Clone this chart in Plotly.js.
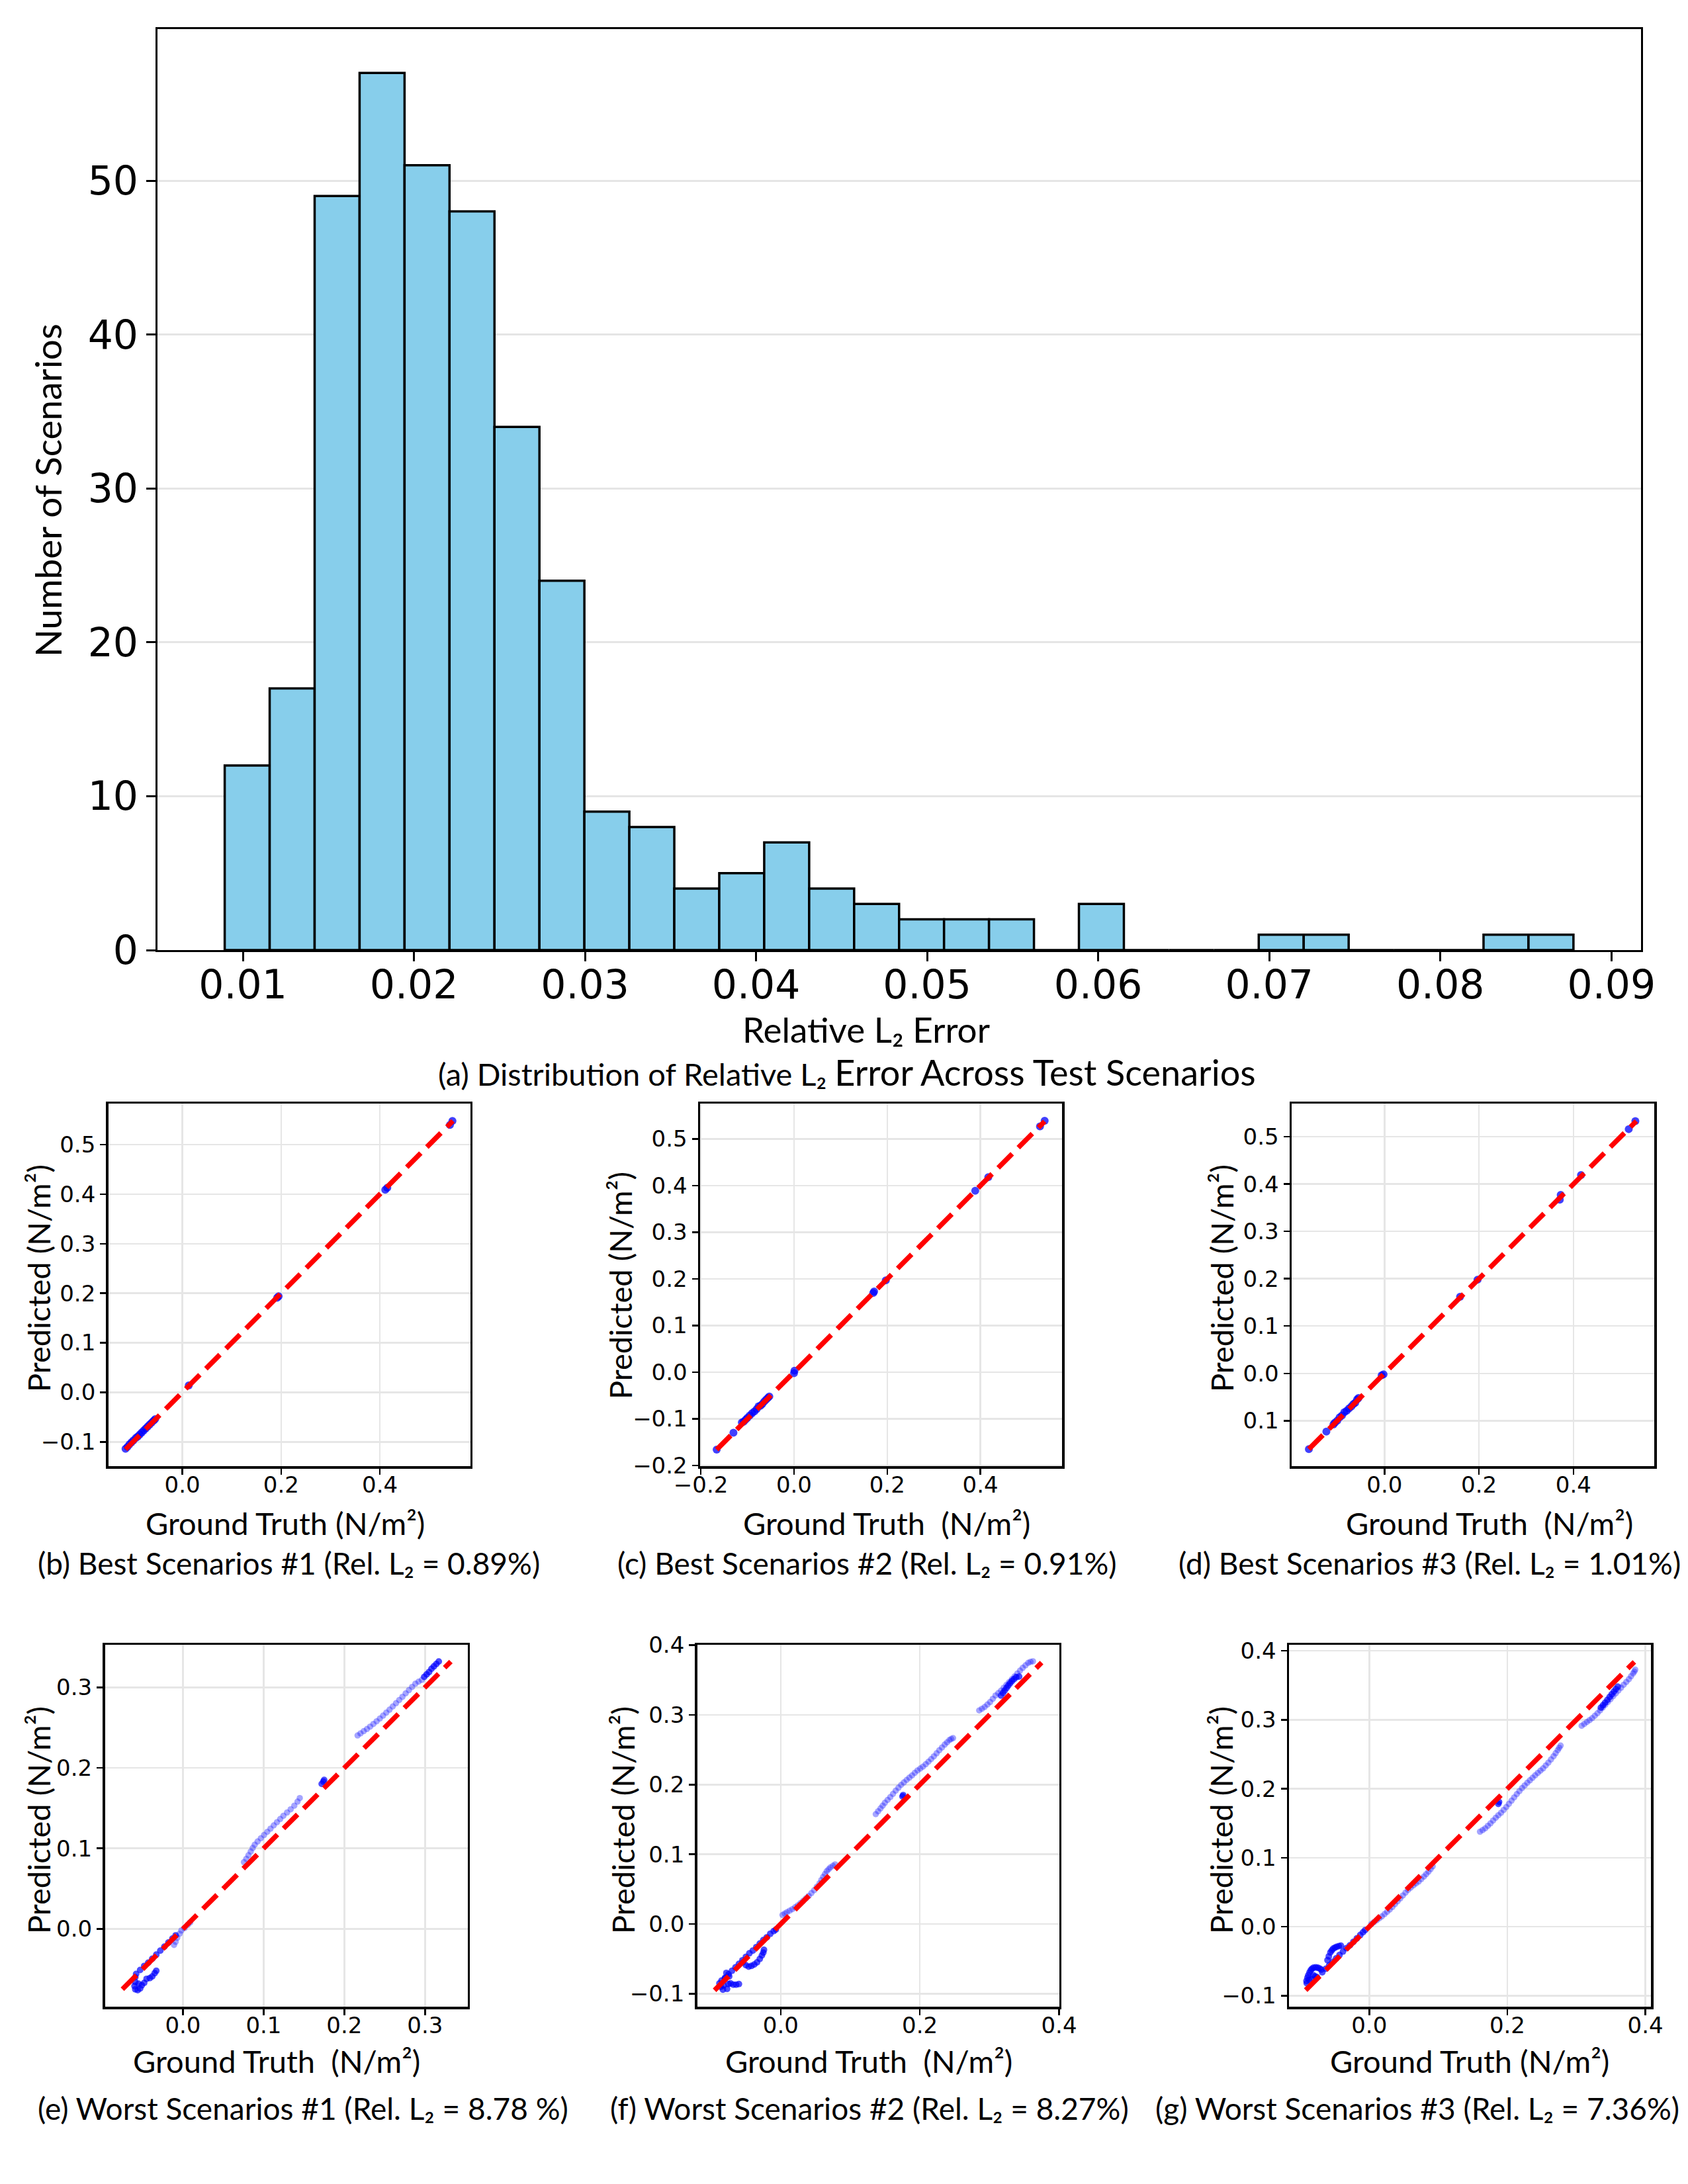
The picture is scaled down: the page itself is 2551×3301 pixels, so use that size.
<!DOCTYPE html>
<html><head><meta charset="utf-8">
<script src="https://cdn.plot.ly/plotly-3.0.1.min.js"></script>
<style>html,body{margin:0;padding:0;background:#fff;}#chart{width:2551px;height:3301px;}</style>
</head><body><div id="chart"></div>
<script>
// ---------- (a) histogram ----------
const histBinStart = 0.00894;
const histBinWidth = 0.002628;
const histCounts = [12,17,49,57,51,48,34,24,9,8,4,5,7,4,3,2,2,2,0,3,0,0,0,1,1,0,0,0,1,1];
const histXTicks = [0.01,0.02,0.03,0.04,0.05,0.06,0.07,0.08,0.09];
const histYTicks = [0,10,20,30,40,50];

// ---------- (b) best #1 ----------
const bGt   = [-0.115,-0.111,-0.107,-0.103,-0.099,-0.094,-0.090,-0.086,-0.082,-0.078,-0.074,-0.070,-0.066,-0.062,-0.058,-0.055,0.013,0.192,0.195,0.411,0.415,0.542,0.547];
const bPred = [-0.114,-0.110,-0.105,-0.101,-0.097,-0.092,-0.089,-0.085,-0.081,-0.077,-0.073,-0.069,-0.065,-0.061,-0.057,-0.054,0.014,0.191,0.194,0.409,0.413,0.540,0.548];
const bDiag = [-0.115,0.548];

// ---------- (c) best #2 ----------
const cGt   = [-0.166,-0.130,-0.112,-0.108,-0.104,-0.100,-0.095,-0.090,-0.085,-0.080,-0.076,-0.072,-0.068,-0.064,-0.060,-0.056,-0.053,0.000,0.001,0.170,0.172,0.197,0.389,0.417,0.528,0.538];
const cPred = [-0.166,-0.130,-0.108,-0.106,-0.102,-0.098,-0.093,-0.088,-0.084,-0.079,-0.073,-0.072,-0.068,-0.063,-0.059,-0.055,-0.052,-0.002,0.003,0.170,0.173,0.197,0.389,0.418,0.527,0.539];
const cDiag = [-0.166,0.538];

// ---------- (d) best #3 ----------
const dGt   = [-0.160,-0.123,-0.108,-0.105,-0.100,-0.095,-0.090,-0.085,-0.080,-0.075,-0.070,-0.066,-0.062,-0.058,-0.055,-0.006,-0.002,0.160,0.197,0.371,0.373,0.416,0.517,0.531];
const dPred = [-0.160,-0.123,-0.108,-0.104,-0.100,-0.093,-0.089,-0.082,-0.079,-0.074,-0.070,-0.065,-0.062,-0.055,-0.052,-0.004,-0.002,0.162,0.198,0.367,0.377,0.419,0.516,0.533];
const dDiag = [-0.160,0.533];
const dYTickText = ['0.1','0.0','0.1','0.2','0.3','0.4','0.5'];

// ---------- (e) worst #1 ----------
const eDarkGt   = [-0.058,-0.053,-0.048,-0.043,-0.038,-0.033,-0.028,-0.023,-0.018,-0.013,-0.009,
  -0.059,-0.059,-0.060,-0.059,-0.056,-0.053,-0.055,-0.051,-0.048,-0.045,-0.041,-0.038,-0.035,-0.033,
  0.172,0.174,0.175,
  0.299,0.302,0.305,0.308,0.311,0.314,0.317];
const eDarkPred = [-0.056,-0.051,-0.046,-0.042,-0.037,-0.032,-0.027,-0.022,-0.017,-0.012,-0.008,
  -0.060,-0.066,-0.071,-0.075,-0.076,-0.074,-0.068,-0.070,-0.067,-0.062,-0.061,-0.059,-0.055,-0.052,
  0.180,0.183,0.185,
  0.313,0.316,0.319,0.323,0.326,0.329,0.332];
const eLightGt   = [-0.011,-0.009,-0.007,-0.004,-0.002,0.002,0.006,0.009,
  0.0756,0.0785,0.0812,0.0840,0.0865,0.0890,0.0925,0.0965,0.1005,0.1045,0.1085,0.1125,0.1165,0.1205,0.1245,0.1290,0.1335,0.1380,0.1420,0.1448,
  0.2164,0.2200,0.2240,0.2280,0.2320,0.2360,0.2400,0.2440,0.2480,0.2520,0.2560,0.2600,0.2640,0.2680,0.2720,0.2760,0.2800,0.2840,0.2880,0.2920,0.2960];
const eLightPred = [-0.020,-0.016,-0.011,-0.006,-0.002,0.001,0.005,0.008,
  0.0829,0.0870,0.0915,0.0960,0.1005,0.1045,0.1085,0.1125,0.1165,0.1205,0.1245,0.1285,0.1325,0.1365,0.1405,0.1445,0.1485,0.1530,0.1580,0.1625,
  0.2402,0.2428,0.2455,0.2482,0.2512,0.2545,0.2578,0.2612,0.2648,0.2685,0.2722,0.2762,0.2802,0.2842,0.2882,0.2925,0.2965,0.3005,0.3045,0.3070,0.3092];
const eDiag = [-0.075,0.332];

// ---------- (f) worst #2 ----------
const fDarkGt   = [-0.085,-0.080,-0.075,-0.070,-0.065,-0.060,-0.055,-0.050,-0.045,-0.040,-0.035,-0.030,-0.025,-0.020,-0.015,-0.010,-0.007,
  -0.088,-0.086,-0.083,-0.082,-0.080,-0.077,-0.075,-0.072,-0.068,-0.064,-0.060,-0.078,-0.074,
  -0.054,-0.050,-0.046,-0.042,-0.038,-0.034,-0.030,-0.027,-0.025,-0.024,
  0.175,0.176,
  0.3166,0.3195,0.3218,0.3245,0.3270,0.3296,0.3322,0.3352,0.3384,0.3426];
const fDarkPred = [-0.081,-0.077,-0.072,-0.067,-0.062,-0.057,-0.052,-0.047,-0.042,-0.038,-0.033,-0.028,-0.023,-0.019,-0.014,-0.010,-0.008,
  -0.085,-0.090,-0.094,-0.088,-0.078,-0.093,-0.086,-0.085,-0.087,-0.087,-0.086,-0.070,-0.075,
  -0.055,-0.059,-0.061,-0.060,-0.058,-0.055,-0.050,-0.045,-0.041,-0.037,
  0.183,0.185,
  0.3277,0.3315,0.3348,0.3385,0.3419,0.3452,0.3484,0.3512,0.3539,0.3550];
const fLightGt   = [0.0026,0.0058,0.0089,0.0128,0.0167,0.0206,0.0245,0.0284,0.0323,0.0362,0.0402,0.0441,0.0480,0.0519,0.0558,0.0584,0.0610,0.0636,0.0662,0.0688,0.0714,0.0750,0.0782,
  0.1366,0.1400,0.1434,0.1466,0.1497,0.1536,0.1575,0.1614,0.1653,0.1692,0.1731,0.1770,0.1810,0.1849,0.1888,0.1927,0.1966,0.2005,0.2044,0.2084,0.2123,0.2162,0.2201,0.2240,0.2279,0.2318,0.2357,0.2391,0.2425,0.2450,0.2477,
  0.2853,0.2892,0.2931,0.2970,0.3009,0.3048,0.3087,0.3126,0.3166,0.3205,0.3244,0.3283,0.3322,0.3361,0.3400,0.3439,0.3478,0.3518,0.3557,0.3590,0.3625];
const fLightPred = [0.0131,0.0150,0.0169,0.0191,0.0213,0.0240,0.0267,0.0300,0.0333,0.0368,0.0403,0.0444,0.0485,0.0534,0.0583,0.0630,0.0676,0.0717,0.0758,0.0785,0.0812,0.0836,0.0856,
  0.1576,0.1617,0.1658,0.1698,0.1739,0.1780,0.1821,0.1867,0.1914,0.1955,0.1996,0.2031,0.2067,0.2100,0.2132,0.2168,0.2203,0.2230,0.2257,0.2292,0.2328,0.2366,0.2405,0.2448,0.2492,0.2533,0.2574,0.2606,0.2639,0.2655,0.2666,
  0.3064,0.3088,0.3113,0.3148,0.3184,0.3230,0.3277,0.3312,0.3348,0.3389,0.3430,0.3470,0.3511,0.3552,0.3593,0.3634,0.3675,0.3710,0.3746,0.3760,0.3768];
const fDiag = [-0.095,0.375];

// ---------- (g) worst #3 ----------
const gDarkGt   = [-0.0909,-0.0895,-0.0883,-0.0865,-0.0848,-0.0830,-0.0807,-0.0776,-0.0746,-0.0720,-0.0695,-0.0807,-0.0782,-0.0756,-0.0832,-0.0870,-0.0905,
  -0.0604,-0.0585,-0.0563,-0.0543,-0.0523,-0.0497,-0.0472,-0.0441,-0.0411,
  -0.068,-0.063,-0.058,-0.053,-0.048,-0.043,-0.038,-0.033,-0.028,-0.023,-0.018,-0.013,-0.009,-0.006,
  0.187,0.188,
  0.3355,0.3386,0.3416,0.3449,0.3482,0.3512,0.3543,0.3571,0.3599];
const gDarkPred = [-0.0787,-0.0740,-0.0705,-0.0665,-0.0633,-0.0610,-0.0595,-0.0590,-0.0595,-0.0605,-0.0622,-0.0705,-0.0720,-0.0732,-0.0760,-0.0770,-0.0820,
  -0.0485,-0.0430,-0.0374,-0.0345,-0.0319,-0.0303,-0.0292,-0.0282,-0.0275,
  -0.066,-0.061,-0.056,-0.051,-0.046,-0.041,-0.036,-0.031,-0.027,-0.022,-0.017,-0.012,-0.008,-0.005,
  0.178,0.181,
  0.3177,0.3213,0.3249,0.3290,0.3332,0.3370,0.3409,0.3445,0.3480];
const gLightGt   = [0.0030,0.0068,0.0107,0.0145,0.0183,0.0221,0.0259,0.0297,0.0335,0.0373,0.0411,0.0449,0.0487,0.0525,0.0563,0.0601,0.0640,0.0678,0.0716,0.0754,0.0792,0.0825,0.0858,0.0890,0.0919,
  0.1604,0.1642,0.1680,0.1718,0.1756,0.1794,0.1832,0.1870,0.1909,0.1947,0.1985,0.2023,0.2061,0.2099,0.2137,0.2175,0.2213,0.2251,0.2289,0.2327,0.2365,0.2403,0.2442,0.2480,0.2518,0.2556,0.2594,0.2632,0.2670,0.2700,0.2731,0.2752,0.2772,
  0.3076,0.3114,0.3152,0.3190,0.3228,0.3267,0.3305,0.3343,0.3381,0.3419,0.3457,0.3495,0.3533,0.3571,0.3609,0.3647,0.3685,0.3723,0.3761,0.3792,0.3822,0.3840,0.3853];
const gLightPred = [0.0039,0.0066,0.0094,0.0121,0.0149,0.0182,0.0215,0.0250,0.0286,0.0327,0.0369,0.0410,0.0452,0.0493,0.0534,0.0567,0.0600,0.0627,0.0655,0.0691,0.0727,0.0762,0.0798,0.0837,0.0876,
  0.1377,0.1401,0.1426,0.1462,0.1498,0.1539,0.1580,0.1616,0.1652,0.1693,0.1735,0.1781,0.1828,0.1875,0.1922,0.1966,0.2010,0.2048,0.2087,0.2123,0.2159,0.2195,0.2230,0.2263,0.2296,0.2337,0.2379,0.2425,0.2472,0.2516,0.2561,0.2594,0.2627,
  0.2913,0.2940,0.2968,0.2995,0.3023,0.3059,0.3095,0.3136,0.3177,0.3218,0.3260,0.3301,0.3343,0.3384,0.3425,0.3466,0.3508,0.3549,0.3590,0.3632,0.3673,0.3700,0.3728];
const gDiag = [-0.092,0.384];

// ---------- text ----------
const captionA = "<span style='font-size:47px'>(a) Distribution of Relative L₂ </span>Error Across Test Scenarios";
const captions = [
  "(b) Best Scenarios #1 (Rel. L₂ = 0.89%)",
  "(c) Best Scenarios #2 (Rel. L₂ = 0.91%)",
  "(d) Best Scenarios #3 (Rel. L₂ = 1.01%)",
  "(e) Worst Scenarios #1 (Rel. L₂ = 8.78 %)",
  "(f) Worst Scenarios #2 (Rel. L₂ = 8.27%)",
  "(g) Worst Scenarios #3 (Rel. L₂ = 7.36%)"
];
const xLabels = ["Ground Truth (N/m²)","Ground Truth\u00a0\u00a0(N/m²)","Ground Truth\u00a0\u00a0(N/m²)",
                 "Ground Truth\u00a0\u00a0(N/m²)","Ground Truth\u00a0\u00a0(N/m²)","Ground Truth (N/m²)"];
const yLabel = "Predicted (N/m²)";

// ================= build =================
const W = 2551, H = 3301;
const dx = (l, r) => [l / W, r / W];
const dy = (t, b) => [1 - b / H, 1 - t / H];
const TF = 'Lato, "Open Sans", sans-serif';
const NF = '"DejaVu Sans", sans-serif';

const data = [];
data.push({
  type: 'bar', xaxis: 'x', yaxis: 'y',
  x: histCounts.map((c, i) => histBinStart + (i + 0.5) * histBinWidth),
  y: histCounts, width: histBinWidth,
  marker: {color: '#87CEEB', line: {color: 'black', width: 3.5}},
  hoverinfo: 'skip'
});

const panels = [
  {ax: 2, dark: [bGt, bPred], light: null, diag: bDiag, best: true},
  {ax: 3, dark: [cGt, cPred], light: null, diag: cDiag, best: true},
  {ax: 4, dark: [dGt, dPred], light: null, diag: dDiag, best: true},
  {ax: 5, dark: [eDarkGt, eDarkPred], light: [eLightGt, eLightPred], diag: eDiag},
  {ax: 6, dark: [fDarkGt, fDarkPred], light: [fLightGt, fLightPred], diag: fDiag},
  {ax: 7, dark: [gDarkGt, gDarkPred], light: [gLightGt, gLightPred], diag: gDiag}
];
panels.forEach(p => {
  const xa = 'x' + p.ax, ya = 'y' + p.ax;
  if (p.light) data.push({type: 'scatter', mode: 'markers', xaxis: xa, yaxis: ya,
    x: p.light[0], y: p.light[1], marker: {size: 9.5, color: 'rgba(30,30,255,0.4)', line: {width: 0}}, hoverinfo: 'skip'});
  data.push({type: 'scatter', mode: 'markers', xaxis: xa, yaxis: ya,
    x: p.dark[0], y: p.dark[1], marker: {size: p.best ? 12 : 10, color: p.best ? 'rgba(0,0,255,0.75)' : 'rgba(0,0,255,0.7)', line: {width: 0}}, hoverinfo: 'skip'});
  data.push({type: 'scatter', mode: 'lines', xaxis: xa, yaxis: ya,
    x: p.diag, y: p.diag, line: {color: '#ff0000', width: 7.5, dash: '30px,13px'}, hoverinfo: 'skip'});
});

const layout = {
  width: W, height: H, margin: {l: 0, r: 0, t: 0, b: 0},
  paper_bgcolor: 'white', plot_bgcolor: 'white', showlegend: false, hovermode: false,
  bargap: 0,
  xaxis: {domain: dx(238, 2480), range: [0.00501, 0.09173], tickvals: histXTicks, tickformat: '.2f',
    ticks: 'outside', ticklen: 14, tickwidth: 3, tickcolor: 'black', showgrid: false, zeroline: false,
    showline: true, linecolor: 'black', linewidth: 3, mirror: true, ticklabelstandoff: -16,
    tickfont: {family: NF, size: 60, color: 'black'}, anchor: 'y'},
  yaxis: {domain: dy(44, 1436), range: [0, 59.85], tickvals: histYTicks,
    ticks: 'outside', ticklen: 14, tickwidth: 3, tickcolor: 'black', showgrid: true, gridcolor: '#e5e5e5', gridwidth: 3,
    zeroline: false, showline: true, linecolor: 'black', linewidth: 3, mirror: true,
    tickfont: {family: NF, size: 60, color: 'black'}, anchor: 'x'},
  annotations: []
};

function sAxis(extra) {
  return Object.assign({
    ticks: 'outside', ticklen: 9, tickwidth: 2.5, tickcolor: 'black',
    showgrid: true, gridcolor: '#e6e6e6', gridwidth: 2.5, zeroline: false,
    showline: true, linecolor: 'black', linewidth: 3.5, mirror: true,
    tickformat: '.1f', tickfont: {family: NF, size: 34, color: 'black'}
  }, extra);
}
const boxes = [
  {x: [163.6, 710.6], y: [1668, 2216], xr: [-0.150, 0.583], yr: [-0.149, 0.583], xt: [0, 0.2, 0.4], yt: [-0.1, 0, 0.1, 0.2, 0.3, 0.4, 0.5]},
  {x: [1058, 1605], y: [1668, 2216], xr: [-0.2016, 0.5753], yr: [-0.2015, 0.576], xt: [-0.2, 0, 0.2, 0.4], yt: [-0.2, -0.1, 0, 0.1, 0.2, 0.3, 0.4, 0.5]},
  {x: [1952, 2500], y: [1668, 2216], xr: [-0.1965, 0.571], yr: [-0.196, 0.570], xt: [0, 0.2, 0.4], yt: [-0.1, 0, 0.1, 0.2, 0.3, 0.4, 0.5], ytt: dYTickText},
  {x: [158.5, 706.5], y: [2486, 3033], xr: [-0.0967, 0.3526], yr: [-0.0966, 0.3528], xt: [0, 0.1, 0.2, 0.3], yt: [0, 0.1, 0.2, 0.3]},
  {x: [1053.6, 1600.5], y: [2486, 3033], xr: [-0.120, 0.400], yr: [-0.1185, 0.4005], xt: [0, 0.2, 0.4], yt: [-0.1, 0, 0.1, 0.2, 0.3, 0.4]},
  {x: [1948, 2495], y: [2486, 3033], xr: [-0.1162, 0.408], yr: [-0.116, 0.4088], xt: [0, 0.2, 0.4], yt: [-0.1, 0, 0.1, 0.2, 0.3, 0.4]}
];
boxes.forEach((b, i) => {
  const n = i + 2;
  layout['xaxis' + n] = sAxis({domain: dx(b.x[0], b.x[1]), range: b.xr, tickvals: b.xt, anchor: 'y' + n, ticklabelstandoff: -13});
  const ya = {domain: dy(b.y[0], b.y[1]), range: b.yr, tickvals: b.yt, anchor: 'x' + n};
  if (b.ytt) ya.ticktext = b.ytt;
  layout['yaxis' + n] = sAxis(ya);
});

function ann(text, px, py, size, angle) {
  layout.annotations.push({text: text, xref: 'paper', yref: 'paper', x: px / W, y: 1 - py / H,
    xanchor: 'center', yanchor: 'middle', showarrow: false, textangle: angle || 0, borderpad: 0,
    font: {family: TF, size: size, color: 'black'}});
}
ann("Number of Scenarios", 72, 741, 55, -90);
ann("Relative L₂ Error", 1309, 1555, 53);
ann(captionA, 1280, 1621, 54);

const capPos = [[436, 2362], [1310, 2362], [2160, 2362], [458, 3186], [1314, 3186], [2142, 3186]];
const xlPos  = [[431, 2302], [1340, 2302], [2251, 2302], [418, 3115], [1313, 3115], [2221, 3115]];
const ylPos  = [[58, 1932], [937, 1943], [1846, 1932], [58, 2751], [941, 2751], [1845, 2751]];
for (let i = 0; i < 6; i++) {
  ann(captions[i], capPos[i][0], capPos[i][1], 46);
  ann(xLabels[i], xlPos[i][0], xlPos[i][1], 47);
  ann(yLabel, ylPos[i][0], ylPos[i][1], 47, -90);
}

Plotly.newPlot('chart', data, layout, {staticPlot: true, displayModeBar: false});
</script></body></html>
